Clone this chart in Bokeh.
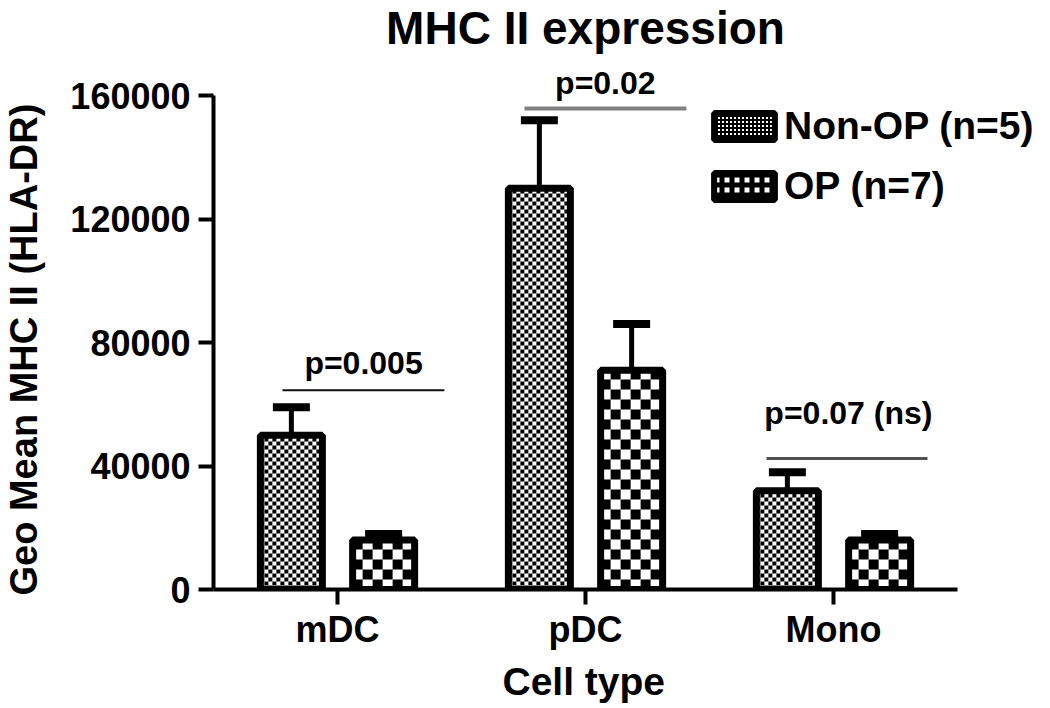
import math
from bokeh.plotting import figure
from bokeh.models import (FixedTicker, Range1d, Legend, LegendItem, Whisker, TeeHead,
                          ColumnDataSource, Label, Title, BasicTickFormatter)
from bokeh.core.properties import value
from bokeh.embed import file_html
from bokeh.resources import INLINE

# ---------------- data ----------------
categories = ["mDC", "pDC", "Mono"]
non_op_mean = [50000, 130000, 32000]
non_op_sem = [9000, 22000, 6000]
op_mean = [16000, 71000, 16000]
op_sem = [2000, 15000, 2000]
series_labels = ["Non-OP (n=5)", "OP (n=7)"]
pvalue_labels = ["p=0.005", "p=0.02", "p=0.07 (ns)"]
y_ticks = [0, 40000, 80000, 120000, 160000]

# annotation geometry (comparison bars above groups)
pline_x0 = [0.778, 1.754, 2.73]
pline_x1 = [1.431, 2.407, 3.379]
pline_y = [64500, 155800, 42400]
pline_color = ["#111111", "#808080", "#505050"]
pline_width = [2, 4, 3]
ptext_x = [1.105, 2.08, 3.06]
ptext_y = [73500, 164200, 57300]

FONT = "Liberation Sans"
OFF = 0.186
BAR_W = 0.25

FRAME_W, FRAME_H = 839, 589
X0, X1 = 0.5, 0.5 + 839 / 248
Y0, Y1 = 0, 190770
PX_X = FRAME_W / (X1 - X0)
PX_Y = FRAME_H / (Y1 - Y0)

xs = [i + 1 for i in range(len(categories))]
x_non = [x - OFF for x in xs]
x_op = [x + OFF for x in xs]

p = figure(frame_width=FRAME_W, frame_height=FRAME_H,
           x_range=Range1d(X0, X1), y_range=Range1d(Y0, Y1),
           output_backend="svg", toolbar_location=None,
           min_border_left=211, min_border_right=0, min_border_top=0,
           min_border_bottom=119)
p.outline_line_color = None
p.xgrid.visible = False
p.ygrid.visible = False
p.background_fill_color = "white"
p.border_fill_color = "white"


def checker(centers, tops, cell_px):
    cw = cell_px / PX_X
    ch = cell_px / PX_Y
    L, R, B, T = [], [], [], []
    for xc, top in zip(centers, tops):
        x0, x1 = xc - BAR_W / 2, xc + BAR_W / 2
        nx = math.ceil((x1 - x0) / cw)
        ny = math.ceil(top / ch)
        for i in range(nx):
            for j in range(ny):
                if (i + j) % 2 == 0:
                    L.append(x0 + i * cw)
                    R.append(min(x0 + (i + 1) * cw, x1))
                    B.append(j * ch)
                    T.append(min((j + 1) * ch, top))
    return dict(left=L, right=R, bottom=B, top=T)


# white base of bars
p.vbar(x=x_non, top=non_op_mean, bottom=0, width=BAR_W, fill_color="white", line_color=None)
p.vbar(x=x_op, top=op_mean, bottom=0, width=BAR_W, fill_color="white", line_color=None)

# checkerboard textures
p.quad(source=ColumnDataSource(checker(x_non, non_op_mean, 4)),
       left="left", right="right", bottom="bottom", top="top",
       fill_color="black", line_color=None)
p.quad(source=ColumnDataSource(checker(x_op, op_mean, 10)),
       left="left", right="right", bottom="bottom", top="top",
       fill_color="black", line_color=None)

src_non = ColumnDataSource(dict(x=x_non, top=non_op_mean,
                                lower=non_op_mean,
                                upper=[m + e for m, e in zip(non_op_mean, non_op_sem)]))
src_op = ColumnDataSource(dict(x=x_op, top=op_mean,
                               lower=op_mean,
                               upper=[m + e for m, e in zip(op_mean, op_sem)]))

# bar outlines
p.vbar(x="x", top="top", bottom=0, width=BAR_W, source=src_non,
       fill_color=None, line_color="black", line_width=7)
p.vbar(x="x", top="top", bottom=0, width=BAR_W, source=src_op,
       fill_color=None, line_color="black", line_width=7)

for src in (src_non, src_op):
    w = Whisker(base="x", lower="lower", upper="upper", source=src,
                line_color="black", line_width=5,
                upper_head=TeeHead(size=37, line_width=8, line_color="black"),
                lower_head=None, level="underlay")
    p.add_layout(w)

# legend proxies (hidden renderers; only their legend swatches are shown)
leg_non = p.vbar(x="x", top="top", width=BAR_W, source=src_non,
                 fill_color="white", line_color="black", line_width=6,
                 hatch_pattern="+", hatch_color="black", hatch_scale=4, hatch_weight=2,
                 visible=False)
leg_op = p.vbar(x="x", top="top", width=BAR_W, source=src_op,
                fill_color="white", line_color="black", line_width=6,
                hatch_pattern="+", hatch_color="black", hatch_scale=10, hatch_weight=5,
                visible=False)

# comparison lines and p-values
p.segment(x0=pline_x0, x1=pline_x1, y0=pline_y, y1=pline_y,
          line_color=pline_color, line_width=pline_width)
p.text(x=ptext_x, y=ptext_y, text=pvalue_labels,
       text_font=value(FONT), text_font_style="bold", text_font_size="32px",
       text_align="center", text_baseline="middle", text_color="black")

# title
p.add_layout(Label(x=2.0, y=182000, text="MHC II expression",
                   text_font=FONT, text_font_style="bold", text_font_size="46px",
                   text_align="center", text_baseline="alphabetic", text_color="black"))

# axes
for ax in (p.xaxis[0], p.yaxis[0]):
    ax.axis_line_width = 4
    ax.axis_line_color = "black"
    ax.major_tick_line_width = 4
    ax.major_tick_line_color = "black"
    ax.major_tick_out = 15
    ax.major_tick_in = 0
    ax.minor_tick_line_color = None
    ax.major_label_text_font = FONT
    ax.major_label_text_font_style = "bold"
    ax.major_label_text_font_size = "36px"
    ax.major_label_text_color = "black"

p.yaxis.ticker = FixedTicker(ticks=y_ticks)
p.yaxis.formatter = BasicTickFormatter(use_scientific=False)
p.yaxis.bounds = (0, 160000)
p.yaxis.major_label_standoff = 8

p.xaxis.ticker = FixedTicker(ticks=xs)
p.xaxis.major_label_overrides = {x: c for x, c in zip(xs, categories)}
p.xaxis.bounds = (0.5, 3.5)
p.xaxis.major_label_standoff = 4

# axis titles (spacer panel pushes the y title outward)
p.add_layout(Title(text=" ", text_font_size="16px", standoff=4), "left")
p.add_layout(Title(text="Geo Mean MHC II (HLA-DR)", align="left", offset=-6,
                   text_font=FONT, text_font_style="bold", text_font_size="38px",
                   text_color="black", standoff=0), "left")
p.add_layout(Title(text="Cell type", align="left", offset=289,
                   text_font=FONT, text_font_style="bold", text_font_size="39px",
                   text_color="black", standoff=10), "below")

legend = Legend(items=[LegendItem(label=series_labels[0], renderers=[leg_non]),
                       LegendItem(label=series_labels[1], renderers=[leg_op])],
                location=(493, 381), orientation="vertical",
                glyph_width=76, glyph_height=34, label_height=43,
                spacing=16, padding=0, margin=0, label_standoff=2,
                label_text_font=FONT, label_text_font_style="bold",
                label_text_font_size="39px", label_text_color="black",
                border_line_color=None, background_fill_alpha=0,
                inactive_fill_alpha=0)
p.add_layout(legend)

open("out.html", "w").write(file_html(p, INLINE))
